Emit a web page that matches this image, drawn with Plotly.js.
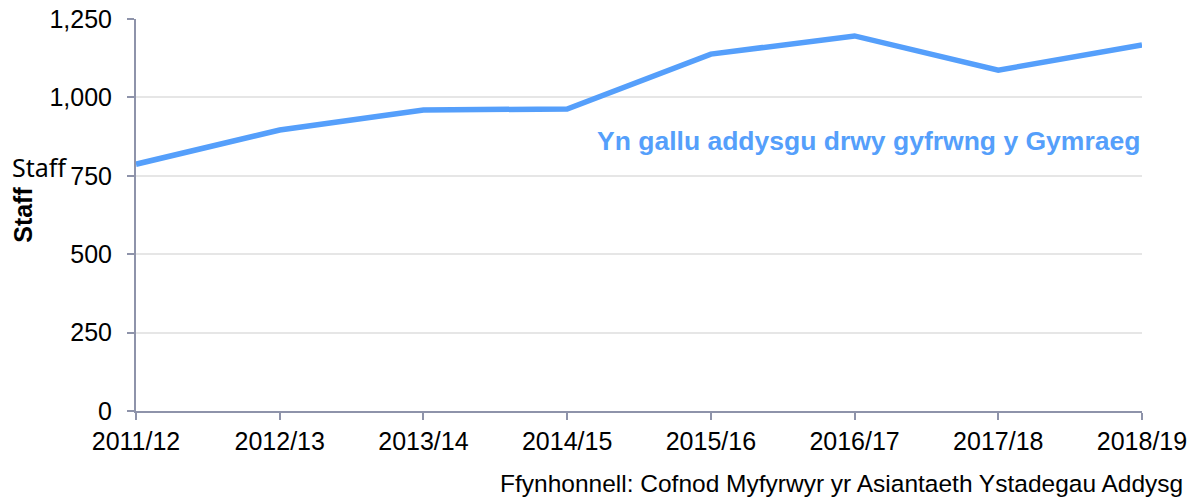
<!DOCTYPE html>
<html><head><meta charset="utf-8">
<script src="https://cdn.plot.ly/plotly-3.0.1.min.js"></script>
<style>html,body{margin:0;padding:0;background:#fff}</style>
</head><body>
<div id="chart" style="width:1196px;height:501px"></div>
<script>
const years = ["2011/12","2012/13","2013/14","2014/15","2015/16","2016/17","2017/18","2018/19"];
const staff = [787, 896, 960, 963, 1138, 1196, 1087, 1167];
const seriesName = "Yn gallu addysgu drwy gyfrwng y Gymraeg";
const yTicks = [0, 250, 500, 750, 1000, 1250];
const sourceText = "Ffynhonnell: Cofnod Myfyrwyr yr Asiantaeth Ystadegau Addysg";

const axisCol = "#8e93aa";
const lineCol = "#559ffb";

Plotly.newPlot("chart", [{
  x: years, y: staff, type: "scatter", mode: "lines",
  line: {color: lineCol, width: 5.5}, name: seriesName, hoverinfo: "x+y"
}], {
  width: 1196, height: 501,
  margin: {l: 136, r: 54, t: 19, b: 90},
  paper_bgcolor: "#fff", plot_bgcolor: "#fff",
  showlegend: false,
  font: {family: "Liberation Sans, Arial, sans-serif", color: "#000", size: 25},
  xaxis: {
    type: "category", range: [0, years.length - 1],
    showgrid: false, showline: true, linecolor: axisCol, linewidth: 2,
    ticks: "outside", ticklen: 7, tickwidth: 2, tickcolor: axisCol,
    tickfont: {size: 25}, zeroline: false
  },
  yaxis: {
    range: [0, 1250], tickvals: yTicks, tickformat: ",d",
    showgrid: true, gridcolor: "#e6e6e6", gridwidth: 2,
    showline: true, linecolor: axisCol, linewidth: 2,
    ticks: "outside", ticklen: 7, tickwidth: 2, tickcolor: axisCol,
    tickfont: {size: 25}, zeroline: false, ticklabelstandoff: 10,
    title: {text: "<b>Staff</b>", font: {size: 25}, standoff: 10}
  },
  annotations: [
    {text: "<b>" + seriesName + "</b>", xref: "paper", yref: "paper", x: 1, y: 0.688,
     xanchor: "right", yanchor: "middle", showarrow: false, font: {size: 26.5, color: lineCol}},
    {text: sourceText, xref: "paper", yref: "paper", x: 1.043, y: -0.185,
     xanchor: "right", yanchor: "middle", showarrow: false, font: {size: 24.5, color: "#000"}},
    {text: "Staff", xref: "paper", yref: "paper", x: -0.066, y: 0.623,
     xanchor: "right", yanchor: "middle", showarrow: false,
     font: {family: "Noto Sans, sans-serif", size: 25, color: "#000"}}
  ]
}, {displayModeBar: false, staticPlot: true});
</script>
</body></html>
